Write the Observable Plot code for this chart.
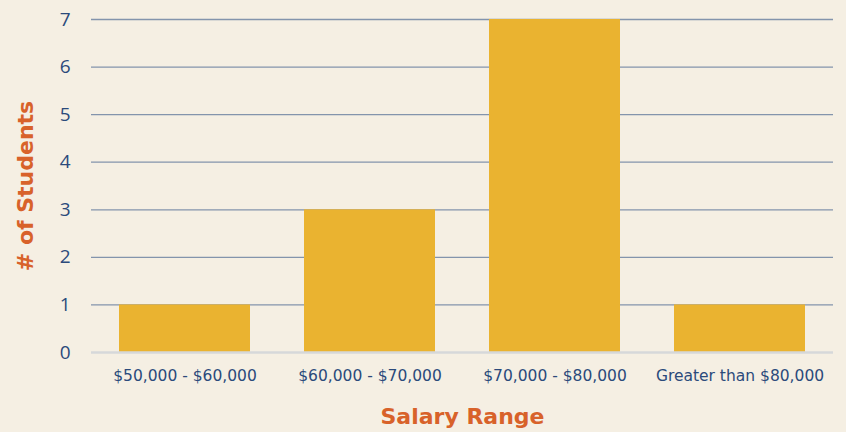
<!DOCTYPE html>
<html>
<head>
<meta charset="utf-8">
<script src="https://cdn.jsdelivr.net/npm/d3@7"></script>
<script src="https://cdn.jsdelivr.net/npm/@observablehq/plot@0.6"></script>
<style>
  html, body { margin: 0; padding: 0; background: #F5EFE3; }
  #chart svg { display: block; }
</style>
</head>
<body>
<div id="chart"></div>
<script>
const categories = ["$50,000 - $60,000", "$60,000 - $70,000", "$70,000 - $80,000", "Greater than $80,000"];
const students = [1, 3, 7, 1];
const yTicks = [0, 1, 2, 3, 4, 5, 6, 7];

const data = categories.map((c, i) => ({ range: c, count: students[i] }));

const chart = Plot.plot({
  width: 846,
  height: 432,
  marginLeft: 91,
  marginRight: 13,
  marginTop: 19,
  marginBottom: 80,
  style: { background: "#F5EFE3", fontFamily: "'DejaVu Sans', 'Open Sans', sans-serif", overflow: "visible" },
  x: { domain: categories, paddingInner: 0.29, paddingOuter: 0.145, label: null },
  y: { domain: [0, 7], label: null },
  marks: [
    Plot.ruleY(yTicks.filter(d => d > 0), { stroke: "#8394AC", strokeWidth: 1.3 }),
    Plot.barY(data, { x: "range", y: "count", fill: "#EAB330" }),
    Plot.ruleY([0], { stroke: "#D6D8DA", strokeWidth: 2.5 }),
    Plot.axisY({ ticks: yTicks, tickSize: 0, tickPadding: 21, fontSize: 19, fontFamily: "'Open Sans', sans-serif", color: "#2B4A7B", tickFormat: d3.format("d"), label: null }),
    Plot.axisX({ tickSize: 0, tickPadding: 17, fontSize: 15.5, color: "#2B4A7B", label: null }),
    Plot.text(["Salary Range"], { frameAnchor: "bottom", dy: 71, fontSize: 22, fontWeight: "bold", fill: "#D8622A" }),
    Plot.text(["# of Students"], { frameAnchor: "left", textAnchor: "middle", dx: -66, rotate: -90, fontSize: 22, fontWeight: "bold", fill: "#D8622A" })
  ]
});
document.getElementById("chart").appendChild(chart);
</script>
</body>
</html>
